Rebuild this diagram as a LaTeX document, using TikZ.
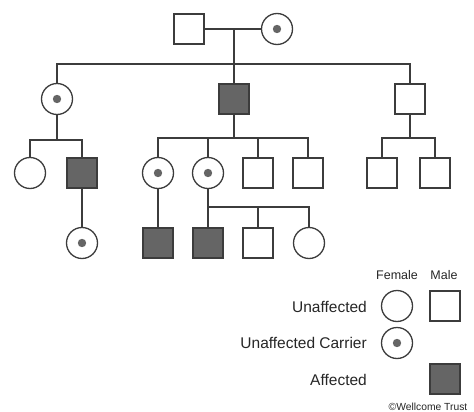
\documentclass[tikz,border=0pt]{standalone}
\usepackage{fontspec}
\setmainfont{Liberation Sans}
\definecolor{affgrey}{HTML}{656565}
\definecolor{lineg}{HTML}{3C3C3C}

\begin{document}
\begin{tikzpicture}[x=1pt,y=-1pt]
\tikzset{
    male/.style={%
        draw=lineg, line width=1.3pt,
        rectangle,
        inner sep=0pt,
        minimum size=30pt
        },
    female/.style={%
        draw=lineg, line width=1.3pt,
        circle,
        inner sep=0pt,
        minimum size=31pt
        },
    carrier/.style={%
        female,
        path picture={\fill[affgrey] (path picture bounding box.center) circle (4.2pt);}
        },
    affected/.style={male, fill=affgrey},
    link/.style={draw=lineg, line width=1.3pt},
    legtext/.style={font=\fontsize{15.5}{18}\selectfont, text=black!85, anchor=east, inner sep=0pt},
    keyhead/.style={font=\fontsize{12.5}{15}\selectfont, text=black!85, inner sep=0pt},
}
\useasboundingbox (0,0) rectangle (474,412);
%%%GRANDPARENTS
\node[male] (gf) at (189,29) {};
\node[carrier] (gm) at (277,29) {};
\coordinate (j0) at (234,29);
\coordinate (bar0) at (234,64);
\draw[link] (gf) -- (gm);
\draw[link] (j0) -- (bar0);
%%%SECOND GENERATION
\node[carrier] (aunt) at (57,99) {};
\node[affected] (son) at (234,99) {};
\node[male] (uncle) at (410,99) {};
\draw[link] (aunt.north) |- (bar0) -| (uncle.north);
\draw[link] (son) -- (bar0);
%%%THIRD GENERATION
\coordinate (bar1) at (57,140);
\node[female] (c1) at (30,173) {};
\node[affected] (c2) at (82,173) {};
\draw[link] (aunt) -- (bar1);
\draw[link] (c1.north) |- (bar1) -| (c2.north);

\coordinate (bar2) at (234,138);
\node[carrier] (d1) at (158,173) {};
\node[carrier] (d2) at (208,173) {};
\node[male] (d3) at (258,173) {};
\node[male] (d4) at (308,173) {};
\draw[link] (son) -- (bar2);
\draw[link] (d1.north) |- (bar2) -| (d4.north);
\draw[link] (d2.north) -- (d2.north |- bar2);
\draw[link] (d3.north) -- (d3.north |- bar2);

\coordinate (bar3) at (410,138);
\node[male] (e1) at (382,173) {};
\node[male] (e2) at (435,173) {};
\draw[link] (uncle) -- (bar3);
\draw[link] (e1.north) |- (bar3) -| (e2.north);
%%%FOURTH GENERATION
\node[carrier] (f1) at (82,243) {};
\node[affected] (f2) at (158,243) {};
\node[affected] (f3) at (208,243) {};
\node[male] (f4) at (258,243) {};
\node[female] (f5) at (309,243) {};
\coordinate (bar4) at (208,207);
\draw[link] (c2) -- (f1);
\draw[link] (d1) -- (f2);
\draw[link] (d2) -- (f3);
\draw[link] (bar4) -| (f5.north);
\draw[link] (f4.north) -- (f4.north |- bar4);
%%%KEY
\node[keyhead] (kf) at (397,275) {Female};
\node[keyhead] (km) at (444,275) {Male};
\node[female] (ku1) at (397,306) {};
\node[male] (ku2) at (445,306) {};
\node[carrier] (kc) at (397,343) {};
\node[affected] (ka) at (445,379) {};
\node[legtext] (lu) at (367,307) {Unaffected};
\node[legtext] (lc) at (367,343) {Unaffected Carrier};
\node[legtext] (la) at (367,380) {Affected};
\node[font=\fontsize{10.3}{12}\selectfont, text=black!85, inner sep=0pt] (wt) at (428,407) {\textcopyright Wellcome Trust};
\end{tikzpicture}
\end{document}
